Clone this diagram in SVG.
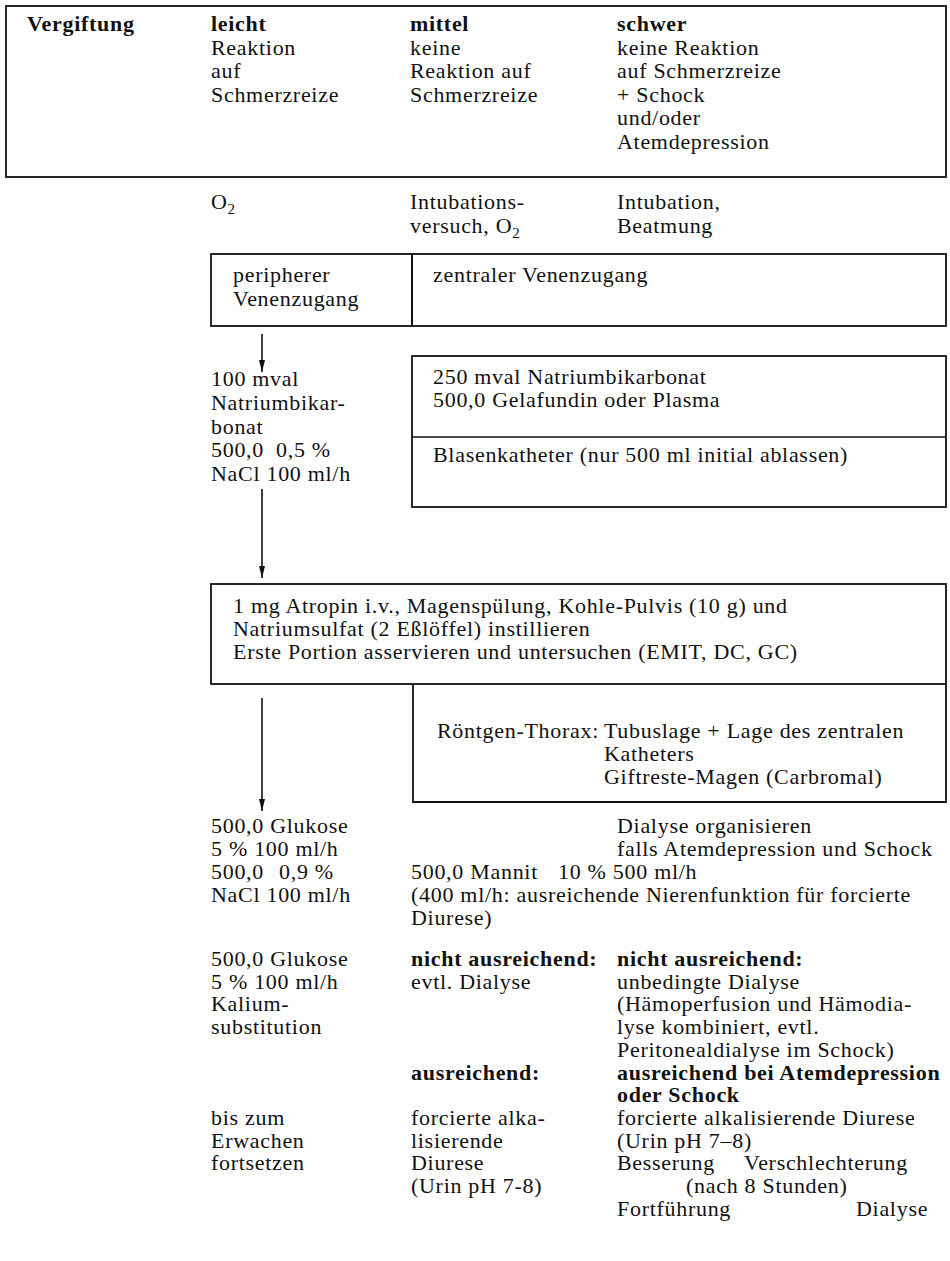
<svg xmlns="http://www.w3.org/2000/svg" width="950" height="1261" viewBox="0 0 950 1261">
<style>
text{font-family:"Liberation Serif","Times New Roman",serif;font-size:22px;letter-spacing:0.7px;fill:#111}
.b{font-weight:bold}
.box{fill:none;stroke:#111;stroke-width:1.8}
.ln{fill:none;stroke:#111;stroke-width:1.6}
.sub{font-size:15px}
</style>
<defs>
<marker id="ah" viewBox="0 0 12 6" refX="12" refY="3" markerWidth="12" markerHeight="6" markerUnits="userSpaceOnUse" orient="auto">
<path d="M0,0 L12,3 L0,6 Z" fill="#111"/>
</marker>
</defs>
<rect width="950" height="1261" fill="#fff"/>

<g id="n-header">
<rect class="box" x="6" y="6" width="940" height="171"/>
<text class="b" x="27" y="31">Vergiftung</text>
<text class="b" x="211" y="31">leicht</text>
<text x="211" y="54.5">Reaktion</text>
<text x="211" y="78">auf</text>
<text x="211" y="101.5">Schmerzreize</text>
<text class="b" x="410" y="31">mittel</text>
<text x="410" y="54.5">keine</text>
<text x="410" y="78">Reaktion auf</text>
<text x="410" y="101.5">Schmerzreize</text>
<text class="b" x="617" y="31">schwer</text>
<text x="617" y="54.5">keine Reaktion</text>
<text x="617" y="78">auf Schmerzreize</text>
<text x="617" y="101.5">+ Schock</text>
<text x="617" y="125">und/oder</text>
<text x="617" y="148.5">Atemdepression</text>
</g>

<g id="n-beatmung">
<text x="211" y="209">O<tspan class="sub" dy="5">2</tspan></text>
<text x="410" y="209">Intubations-</text>
<text x="410" y="233">versuch, O<tspan class="sub" dy="5">2</tspan></text>
<text x="617" y="209">Intubation,</text>
<text x="617" y="233">Beatmung</text>
</g>

<g id="n-peripher">
<rect class="box" x="211" y="254" width="201" height="72"/>
<text x="233" y="282">peripherer</text>
<text x="233" y="306">Venenzugang</text>
</g>

<g id="n-zentral">
<rect class="box" x="412" y="254" width="534" height="72"/>
<text x="433" y="282">zentraler Venenzugang</text>
</g>

<g id="n-leicht-infusion">
<text x="211" y="386">100 mval</text>
<text x="211" y="410">Natriumbikar-</text>
<text x="211" y="434">bonat</text>
<text x="211" y="457">500,0</text>
<text x="276" y="457">0,5 %</text>
<text x="211" y="481">NaCl 100 ml/h</text>
</g>

<g id="n-schwer-infusion">
<rect class="box" x="412" y="356" width="534" height="151"/>
<line class="ln" x1="412" y1="437" x2="946" y2="437"/>
<text x="433" y="384">250 mval Natriumbikarbonat</text>
<text x="433" y="407">500,0 Gelafundin oder Plasma</text>
<text x="433" y="462">Blasenkatheter (nur 500 ml initial ablassen)</text>
</g>

<g id="n-atropin">
<rect class="box" x="211" y="584" width="735" height="100"/>
<text x="233" y="613">1 mg Atropin i.v., Magenspülung, Kohle-Pulvis (10 g) und</text>
<text x="233" y="636">Natriumsulfat (2 Eßlöffel) instillieren</text>
<text x="233" y="659">Erste Portion asservieren und untersuchen (EMIT, DC, GC)</text>
</g>

<g id="n-roentgen">
<path class="box" d="M413,684 V802 H946 V684"/>
<text x="437" y="738">Röntgen-Thorax:</text>
<text x="604" y="738">Tubuslage + Lage des zentralen</text>
<text x="604" y="761">Katheters</text>
<text x="604" y="784">Giftreste-Magen (Carbromal)</text>
</g>

<g id="n-glukose1">
<text x="211" y="833">500,0 Glukose</text>
<text x="211" y="856">5 % 100 ml/h</text>
<text x="211" y="879">500,0</text>
<text x="279" y="879">0,9 %</text>
<text x="211" y="902">NaCl 100 ml/h</text>
</g>

<g id="n-dialyse-org">
<text x="617" y="833">Dialyse organisieren</text>
<text x="617" y="856">falls Atemdepression und Schock</text>
</g>

<g id="n-mannit">
<text x="411" y="879">500,0 Mannit</text>
<text x="558" y="879">10 % 500 ml/h</text>
<text x="411" y="902">(400 ml/h: ausreichende Nierenfunktion für forcierte</text>
<text x="411" y="925">Diurese)</text>
</g>

<g id="n-glukose2">
<text x="211" y="966">500,0 Glukose</text>
<text x="211" y="988.7">5 % 100 ml/h</text>
<text x="211" y="1011.4">Kalium-</text>
<text x="211" y="1034.1">substitution</text>
</g>

<g id="n-mittel-nicht">
<text class="b" x="411" y="966">nicht ausreichend:</text>
<text x="411" y="988.7">evtl. Dialyse</text>
</g>

<g id="n-schwer-nicht">
<text class="b" x="617" y="966">nicht ausreichend:</text>
<text x="617" y="988.7">unbedingte Dialyse</text>
<text x="617" y="1011.4">(Hämoperfusion und Hämodia-</text>
<text x="617" y="1034.1">lyse kombiniert, evtl.</text>
<text x="617" y="1056.8">Peritonealdialyse im Schock)</text>
</g>

<g id="n-mittel-aus">
<text class="b" x="411" y="1079.5">ausreichend:</text>
</g>

<g id="n-schwer-aus">
<text class="b" x="617" y="1079.5">ausreichend bei Atemdepression</text>
<text class="b" x="617" y="1102.2">oder Schock</text>
</g>

<g id="n-leicht-ende">
<text x="211" y="1124.9">bis zum</text>
<text x="211" y="1147.6">Erwachen</text>
<text x="211" y="1170.3">fortsetzen</text>
</g>

<g id="n-mittel-diurese">
<text x="411" y="1124.9">forcierte alka-</text>
<text x="411" y="1147.6">lisierende</text>
<text x="411" y="1170.3">Diurese</text>
<text x="411" y="1193">(Urin pH 7-8)</text>
</g>

<g id="n-schwer-diurese">
<text x="617" y="1124.9">forcierte alkalisierende Diurese</text>
<text x="617" y="1147.6">(Urin pH 7–8)</text>
<text x="617" y="1170.3">Besserung</text>
<text x="744" y="1170.3">Verschlechterung</text>
<text x="686" y="1193">(nach 8 Stunden)</text>
<text x="617" y="1215.7">Fortführung</text>
<text x="856" y="1215.7">Dialyse</text>
</g>

<g id="connectors">
<line class="ln" x1="262" y1="334" x2="262" y2="372" marker-end="url(#ah)"/>
<line class="ln" x1="262" y1="489" x2="262" y2="578" marker-end="url(#ah)"/>
<line class="ln" x1="262" y1="698" x2="262" y2="811" marker-end="url(#ah)"/>
</g>
</svg>
